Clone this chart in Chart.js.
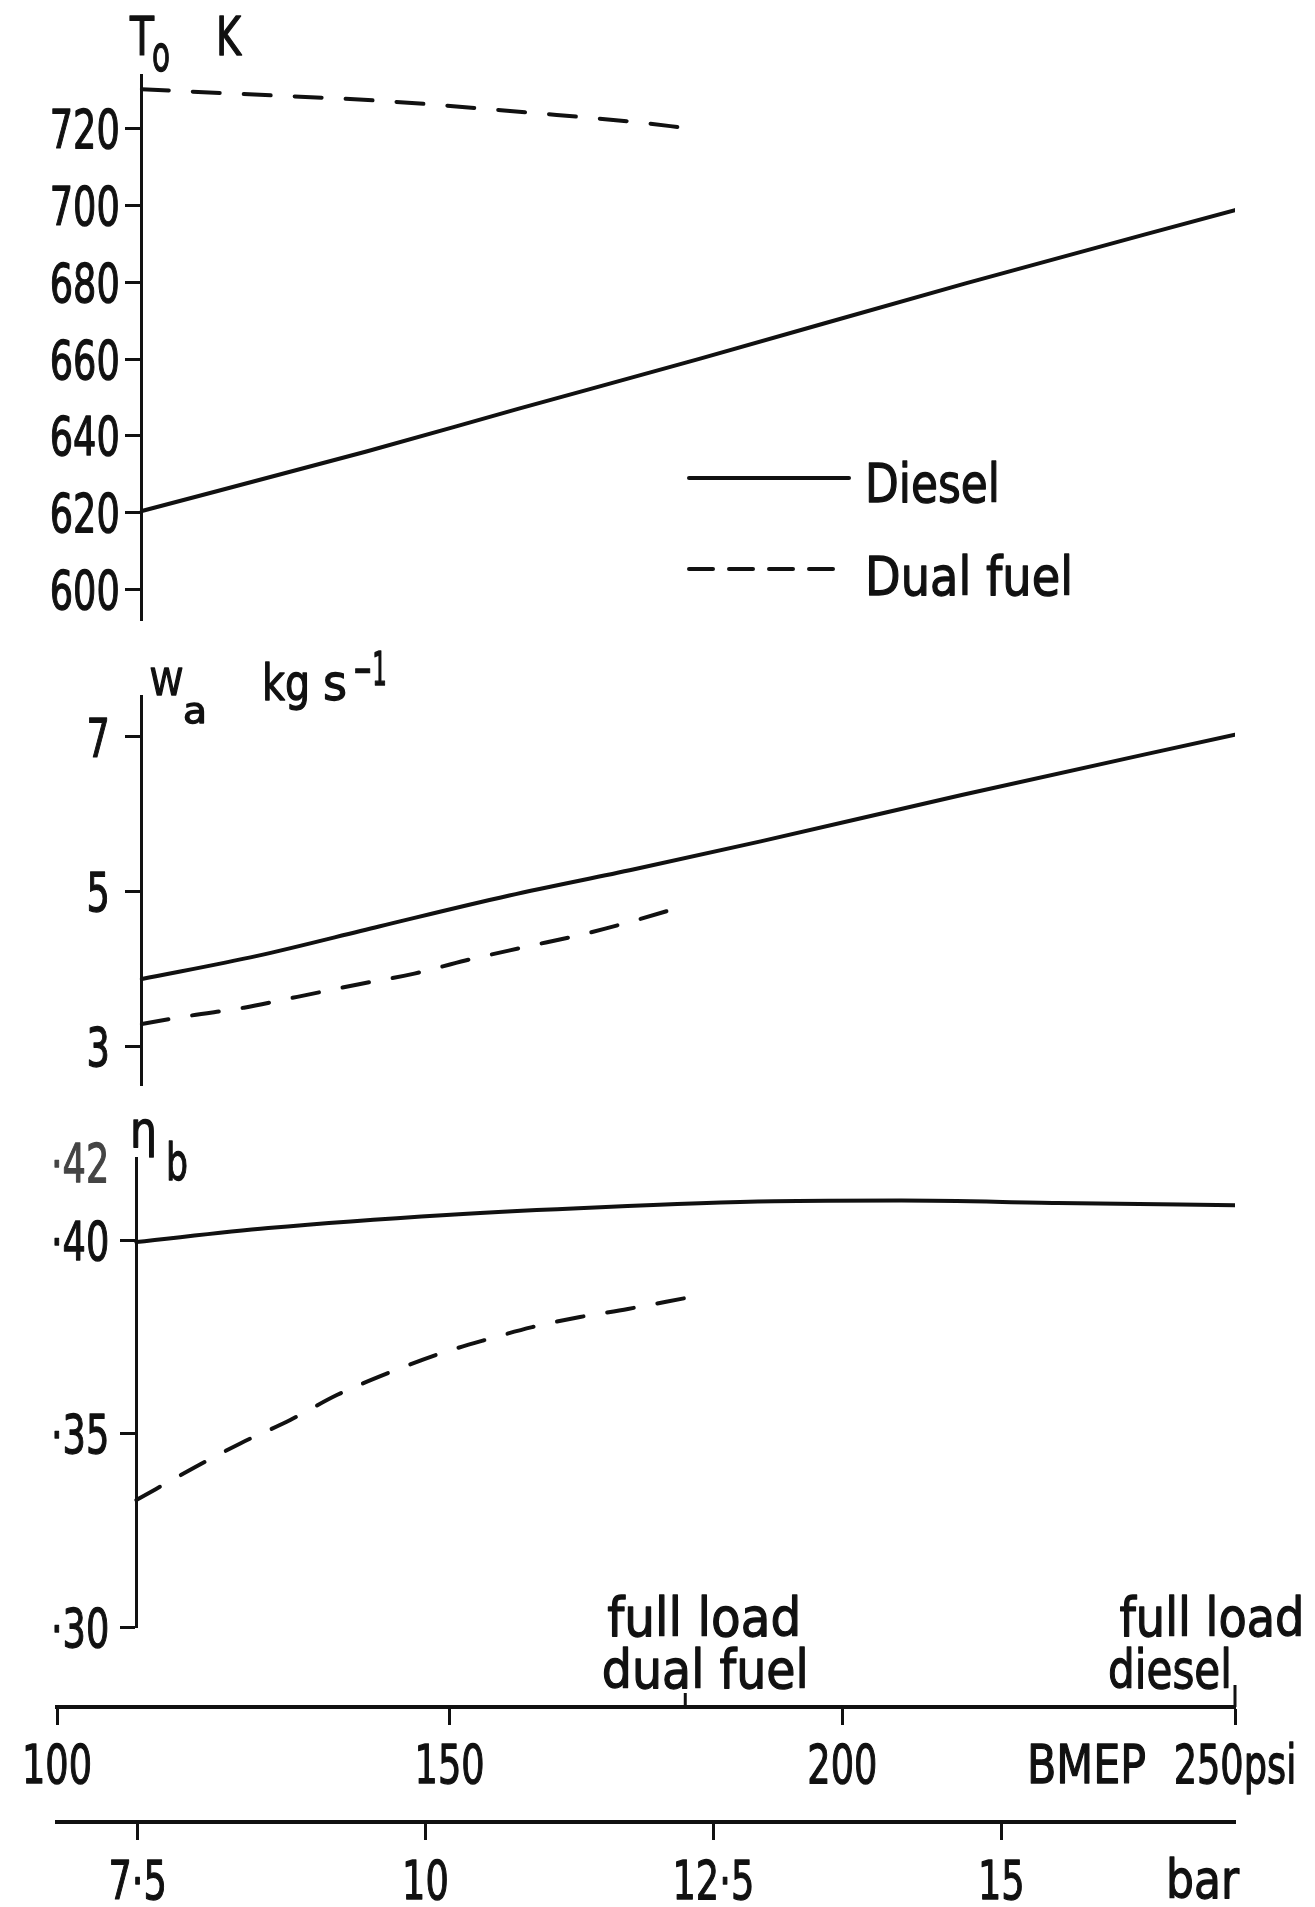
<!DOCTYPE html>
<html>
<head>
<meta charset="utf-8">
<title>Exhaust temperature, air flow and brake efficiency against BMEP</title>
<script src="https://cdn.jsdelivr.net/npm/chart.js@4.4.1/dist/chart.umd.min.js"></script>
<style>
  html, body { margin: 0; padding: 0; background: #fff; }
  #sheet { position: relative; width: 1315px; height: 1907px; overflow: hidden; background: #fff; }
  #sheet canvas { position: absolute; left: 0; top: 0; }
</style>
</head>
<body>
<div id="sheet">
  <canvas id="tempChart" width="1315" height="1907"></canvas>
  <canvas id="flowChart" width="1315" height="1907"></canvas>
  <canvas id="effChart" width="1315" height="1907"></canvas>
  <canvas id="bmepAxes" width="1315" height="1907"></canvas>
</div>
<script>
// Exhaust temperature T0 (K) against BMEP (psi)
const tempDieselPsi = [110.8, 139.4, 158.7, 181.9, 215.7, 250.0];
const tempDieselK   = [620.4, 635.9, 647.0, 660.1, 679.7, 698.8];
const tempDualPsi   = [110.8, 122.0, 141.7, 161.9, 174.3, 180.0];
const tempDualK     = [730.3, 729.2, 727.2, 723.9, 721.6, 720.2];

// Air flow Wa (kg/s)
const flowDieselPsi = [110.8, 125.5, 141.0, 157.6, 173.5, 189.6, 215.2, 250.0];
const flowDiesel    = [3.87, 4.17, 4.55, 4.95, 5.29, 5.65, 6.25, 7.03];
const flowDualPsi   = [110.8, 117.2, 123.8, 130.6, 138.3, 145.5, 152.0, 159.4, 167.0, 173.0, 180.0];
const flowDual      = [3.29, 3.40, 3.50, 3.64, 3.80, 3.94, 4.11, 4.28, 4.45, 4.61, 4.82];

// Brake thermal efficiency
const effDieselPsi  = [110.1, 126.9, 149.6, 169.2, 191.3, 207.5, 227.4, 250.0];
const effDiesel     = [0.3995, 0.4031, 0.4065, 0.4085, 0.4100, 0.4102, 0.4096, 0.4090];
const effDualPsi    = [110.1, 117.5, 123.4, 129.7, 135.7, 142.5, 149.0, 154.9, 160.5, 166.6, 172.7, 180.0];
const effDual       = [0.3328, 0.3412, 0.3475, 0.3535, 0.3600, 0.3659, 0.3708, 0.3744, 0.3775, 0.3801, 0.3822, 0.3850];

// Axis ticks and labels
const tempTicks      = [600, 620, 640, 660, 680, 700, 720];
const tempTickLabels = ['600', '620', '640', '660', '680', '700', '720'];
const flowTicks      = [3, 5, 7];
const flowTickLabels = ['3', '5', '7'];
const effTicks       = [0.30, 0.35, 0.40, 0.42];
const effTickLabels  = ['·30', '·35', '·40', '·42'];
const psiTicks       = [100, 150, 200, 250];
const psiTickLabels  = ['100', '150', '200', '250psi'];
const barTicks       = [7.5, 10, 12.5, 15];
const barTickLabels  = ['7·5', '10', '12·5', '15'];

// Full load points on the BMEP scale
const fullLoadPsi  = [180, 250];
const fullLoadText = [['full load', 'dual fuel'], ['full load', 'diesel']];

// Axis extents
const tempRange = [592, 734];
const flowRange = [2.5, 7.53];
const effRange  = [0.30, 0.4212];
const psiRange  = [100, 250];
const barRange  = [6.80, 17.03];

const PAGE_W = 1315, PAGE_H = 1907;
const PLOT_LEFT = 57, PLOT_RIGHT = 1235;
const INK = '#111';
const FONT = '"DejaVu Sans", "Liberation Sans", sans-serif';
const DUAL_DASH = [27, 24];

// stencil-style lettering: regular face squeezed horizontally, lightly stroked
function drawLabel(ctx, text, x, y, { size = 54, align = 'left', width = null, squeeze = 0.68, color = INK } = {}) {
    ctx.save();
    ctx.font = `${size}px ${FONT}`;
    ctx.fillStyle = color;
    ctx.strokeStyle = color;
    ctx.lineWidth = 1.3;
    ctx.lineJoin = 'round';
    ctx.textBaseline = 'alphabetic';
    ctx.textAlign = align;
    const sx = width ? width / ctx.measureText(text).width : squeeze;
    ctx.translate(x, y);
    ctx.scale(sx, 1);
    ctx.fillText(text, 0, 0);
    ctx.strokeText(text, 0, 0);
    ctx.restore();
}

function strokeSample(ctx, x1, x2, y, dash) {
    ctx.save();
    ctx.strokeStyle = INK;
    ctx.lineWidth = 4;
    ctx.lineCap = 'round';
    ctx.setLineDash(dash);
    ctx.beginPath();
    ctx.moveTo(x1, y);
    ctx.lineTo(x2, y);
    ctx.stroke();
    ctx.restore();
}

function curve(label, xs, ys, dash) {
    return {
        label,
        data: xs.map((x, i) => ({ x, y: ys[i] })),
        borderColor: INK,
        borderWidth: 4,
        borderDash: dash,
        borderCapStyle: 'round',
        pointRadius: 0,
        cubicInterpolationMode: 'monotone',
        fill: false,
    };
}

function panelChart(canvasId, p) {
    // y tick labels drawn beside the axis at each tick the scale built
    const tickLabelPlugin = {
        id: 'panelTickLabels',
        afterDraw(chart) {
            const ys = chart.scales.y;
            const right = chart.scales.x.getPixelForValue(p.axisPsi) - p.labelGap;
            ys.ticks.forEach(t => {
                const py = ys.getPixelForValue(t.value);
                const faint = (p.silent || []).includes(t.value);
                drawLabel(chart.ctx, t.label, right, py + 0.3645 * 54, { align: 'right', color: faint ? '#444' : INK });
            });
        }
    };
    const decorPlugin = {
        id: 'panelDecor',
        afterDraw(chart) { p.decorate(chart.ctx, chart); }
    };

    return new Chart(document.getElementById(canvasId), {
        type: 'line',
        data: {
            datasets: [
                curve('Diesel', p.diesel[0], p.diesel[1], []),
                curve('Dual fuel', p.dual[0], p.dual[1], DUAL_DASH),
            ]
        },
        options: {
            responsive: false,
            animation: false,
            events: [],
            layout: { padding: { left: PLOT_LEFT, right: PAGE_W - PLOT_RIGHT, top: p.top, bottom: PAGE_H - p.bottom } },
            plugins: { legend: { display: false }, tooltip: { enabled: false } },
            scales: {
                x: { type: 'linear', min: psiRange[0], max: psiRange[1], display: false },
                y: {
                    min: p.range[0],
                    max: p.range[1],
                    position: { x: p.axisPsi },
                    afterBuildTicks: s => { s.ticks = p.ticks.map(v => ({ value: v })); },
                    afterFit: s => { s.paddingTop = 0; s.paddingBottom = 0; },
                    ticks: { display: false, callback: (v, i) => p.labels[i] },
                    grid: {
                        drawOnChartArea: false,
                        tickLength: 15,
                        tickWidth: 3,
                        tickColor: c => (c.tick && (p.silent || []).includes(c.tick.value)) ? 'rgba(0,0,0,0)' : INK,
                    },
                    border: { color: INK, width: 3 },
                }
            }
        },
        plugins: [tickLabelPlugin, decorPlugin]
    });
}

// Exhaust temperature panel, with the legend
panelChart('tempChart', {
    diesel: [tempDieselPsi, tempDieselK],
    dual: [tempDualPsi, tempDualK],
    range: tempRange, ticks: tempTicks, labels: tempTickLabels,
    axisPsi: 110.8, top: 75, bottom: 620, labelGap: 22,
    decorate(ctx, chart) {
        drawLabel(ctx, 'T', 130, 55, { width: 24 });
        drawLabel(ctx, 'o', 152, 71, { size: 50, width: 18 });
        drawLabel(ctx, 'K', 216, 55, { width: 25 });
        const [diesel, dual] = chart.data.datasets;
        strokeSample(ctx, 689, 849, 478, []);
        strokeSample(ctx, 689, 847, 569, [24, 16]);
        drawLabel(ctx, diesel.label, 865, 502, { width: 135 });
        drawLabel(ctx, dual.label, 865, 595, { width: 208 });
    }
});

// Air flow panel
panelChart('flowChart', {
    diesel: [flowDieselPsi, flowDiesel],
    dual: [flowDualPsi, flowDual],
    range: flowRange, ticks: flowTicks, labels: flowTickLabels,
    axisPsi: 110.8, top: 696, bottom: 1085, labelGap: 32,
    decorate(ctx) {
        drawLabel(ctx, 'W', 150, 695, { size: 37, width: 33 });
        drawLabel(ctx, 'a', 183, 723, { size: 36, width: 24 });
        drawLabel(ctx, 'kg', 262, 700, { size: 50, width: 48 });
        drawLabel(ctx, 's', 323, 700, { size: 50, width: 24 });
        drawLabel(ctx, '−1', 353, 685, { size: 46, width: 34 });
    }
});

// Brake efficiency panel
panelChart('effChart', {
    diesel: [effDieselPsi, effDiesel],
    dual: [effDualPsi, effDual],
    range: effRange, ticks: effTicks, labels: effTickLabels, silent: [0.42],
    axisPsi: 110.1, top: 1158, bottom: 1627, labelGap: 27,
    decorate(ctx) {
        drawLabel(ctx, 'η', 130, 1147, { size: 50, width: 27 });
        drawLabel(ctx, 'b', 166, 1180, { size: 52, width: 22 });
    }
});

// Shared BMEP scales: psi above, bar below
const bmepDecor = {
    id: 'bmepDecor',
    afterDraw(chart) {
        const ctx = chart.ctx;
        const psi = chart.scales.x;
        const bar = chart.scales.bar;
        psi.ticks.forEach(t => drawLabel(ctx, t.label, psi.getPixelForValue(t.value), 1783, { align: 'center' }));
        bar.ticks.forEach(t => drawLabel(ctx, t.label, bar.getPixelForValue(t.value), 1899, { align: 'center' }));
        drawLabel(ctx, 'BMEP', 1027, 1783, { width: 119 });
        drawLabel(ctx, 'bar', 1166, 1898, { width: 73 });

        // full load marks rise above the psi line
        const lineY = psi.top;
        const rise = [14, 22];
        fullLoadPsi.forEach((v, i) => {
            const px = psi.getPixelForValue(v);
            ctx.save();
            ctx.strokeStyle = INK;
            ctx.lineWidth = 3;
            ctx.beginPath();
            ctx.moveTo(px, lineY);
            ctx.lineTo(px, lineY - rise[i]);
            ctx.stroke();
            ctx.restore();
        });
        const dualPx = psi.getPixelForValue(fullLoadPsi[0]);
        drawLabel(ctx, fullLoadText[0][0], dualPx + 19, 1636, { align: 'center', width: 194 });
        drawLabel(ctx, fullLoadText[0][1], dualPx + 20, 1688, { align: 'center', width: 207 });
        const dieselPx = psi.getPixelForValue(fullLoadPsi[1]);
        drawLabel(ctx, fullLoadText[1][0], dieselPx - 23, 1636, { align: 'center', width: 185 });
        drawLabel(ctx, fullLoadText[1][1], dieselPx - 3, 1688, { align: 'right', width: 124 });
    }
};

new Chart(document.getElementById('bmepAxes'), {
    type: 'line',
    data: { datasets: [] },
    options: {
        responsive: false,
        animation: false,
        events: [],
        layout: { padding: { left: PLOT_LEFT, right: PAGE_W - PLOT_RIGHT, top: 1600, bottom: 0 } },
        plugins: { legend: { display: false }, tooltip: { enabled: false } },
        scales: {
            x: {
                type: 'linear', position: 'bottom', weight: 0,
                min: psiRange[0], max: psiRange[1],
                afterBuildTicks: s => { s.ticks = psiTicks.map(v => ({ value: v })); },
                afterFit: s => { s.height = 115; s.paddingLeft = 0; s.paddingRight = 0; },
                ticks: { display: false, callback: (v, i) => psiTickLabels[i] },
                grid: { drawOnChartArea: false, tickLength: 18, tickWidth: 3, tickColor: INK },
                border: { color: INK, width: 4 },
            },
            bar: {
                type: 'linear', axis: 'x', position: 'bottom', weight: 1,
                min: barRange[0], max: barRange[1],
                afterBuildTicks: s => { s.ticks = barTicks.map(v => ({ value: v })); },
                afterFit: s => { s.height = 85; s.paddingLeft = 0; s.paddingRight = 0; },
                ticks: { display: false, callback: (v, i) => barTickLabels[i] },
                grid: { drawOnChartArea: false, tickLength: 18, tickWidth: 3, tickColor: INK },
                border: { color: INK, width: 4 },
            },
            y: { display: false, min: 0, max: 1 }
        }
    },
    plugins: [bmepDecor]
});
</script>
</body>
</html>
